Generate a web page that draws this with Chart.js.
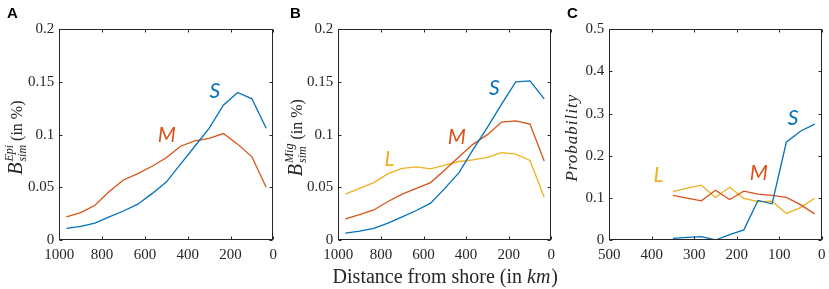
<!DOCTYPE html>
<html><head><meta charset="utf-8">
<script src="https://cdn.jsdelivr.net/npm/chart.js@4/dist/chart.umd.min.js"></script>
<style>
html,body{margin:0;padding:0;background:#fff;}
#wrap{position:relative;width:829px;height:289px;overflow:hidden;background:#fff;}
canvas{position:absolute;top:0;}
</style></head><body>
<div id="wrap">
<canvas id="cA" style="left:0px;width:280px;height:289px" width="280" height="289"></canvas>
<canvas id="cB" style="left:280px;width:300px;height:289px" width="300" height="289"></canvas>
<canvas id="cC" style="left:555px;width:274px;height:289px" width="274" height="289"></canvas>
</div>
<script>
// ---- data ----
const distAB = [966.7, 900, 833.3, 766.7, 700, 633.3, 566.7, 500, 433.3, 366.7, 300, 233.3, 166.7, 100, 33.3];
const epiS = [0.011, 0.013, 0.016, 0.022, 0.0275, 0.034, 0.044, 0.055, 0.072, 0.089, 0.106, 0.128, 0.140, 0.134, 0.106];
const epiM = [0.022, 0.026, 0.033, 0.046, 0.057, 0.063, 0.070, 0.078, 0.089, 0.094, 0.0965, 0.101, 0.091, 0.079, 0.050];
const migS = [0.0065, 0.0085, 0.011, 0.016, 0.022, 0.028, 0.035, 0.049, 0.064, 0.086, 0.107, 0.129, 0.150, 0.151, 0.134];
const migM = [0.020, 0.024, 0.0285, 0.0365, 0.0435, 0.049, 0.0545, 0.0665, 0.079, 0.091, 0.100, 0.112, 0.113, 0.110, 0.075];
const migL = [0.0435, 0.049, 0.0545, 0.063, 0.068, 0.0695, 0.0675, 0.071, 0.0745, 0.076, 0.0785, 0.083, 0.0815, 0.0755, 0.0405];
const distC = [350, 316.7, 283.3, 250, 216.7, 183.3, 150, 116.7, 83.3, 50, 16.7];
const probS = [0.004, 0.006, 0.008, 0.0, 0.013, 0.024, 0.094, 0.086, 0.232, 0.258, 0.275];
const probM = [0.106, 0.0995, 0.093, 0.118, 0.096, 0.116, 0.109, 0.106, 0.101, 0.084, 0.062];
const probL = [0.115, 0.123, 0.130, 0.101, 0.125, 0.099, 0.091, 0.092, 0.063, 0.077, 0.099];
const xTicksAB = [1000, 800, 600, 400, 200, 0];
const yTicksAB = [0, 0.05, 0.1, 0.15, 0.2];
const xTicksC = [500, 400, 300, 200, 100, 0];
const yTicksC = [0, 0.1, 0.2, 0.3, 0.4, 0.5];
const panelLetters = ['A', 'B', 'C'];
// series label annotations [text, distance, value]
const labelsA = [['S', 273, 0.141], ['M', 498, 0.0997]];
const labelsB = [['S', 267, 0.144], ['M', 444, 0.098], ['L', 760, 0.0769]];
const labelsC = [['S', 67.6, 0.290], ['M', 148, 0.159], ['L', 384, 0.154]];

const COLORS = {S: '#0072BD', M: '#D95319', L: '#EDB120'};
const AX = '#262626';
const TICKFONT = {family: '"Liberation Serif", "Times New Roman", serif', size: 15};

function pts(xs, ys) { return xs.map((x, i) => ({x: x, y: ys[i]})); }
function ds(name, xs, ys) {
  return {label: name, data: pts(xs, ys), borderColor: COLORS[name], backgroundColor: COLORS[name],
    borderWidth: 1.3, pointRadius: 0, tension: 0, fill: false};
}
function fmt(v) { return String(+Number(v).toFixed(3)); }

function makeChart(id, cfg) {
  const ctx = document.getElementById(id);
  const plugin = {
    id: 'deco' + id,
    afterDraw(chart) {
      const c = chart.ctx, a = chart.chartArea, xs = chart.scales.x, ys = chart.scales.y;
      c.save();
      c.strokeStyle = AX; c.lineWidth = 1;
      const L = Math.round(a.left) + 0.5, R = Math.round(a.right) - 0.5, T = Math.round(a.top) + 0.5, B = Math.round(a.bottom) - 0.5;
      c.strokeRect(L, T, R - L, B - T);
      c.beginPath();
      const tl = 3;
      cfg.xTicks.forEach(v => { const p = Math.round(xs.getPixelForValue(v)) + 0.5; c.moveTo(p, B); c.lineTo(p, B - tl); c.moveTo(p, T); c.lineTo(p, T + tl); });
      cfg.yTicks.forEach(v => { const p = Math.round(ys.getPixelForValue(v)) + 0.5; c.moveTo(L, p); c.lineTo(L + tl, p); c.moveTo(R, p); c.lineTo(R - tl, p); });
      c.stroke();
      // panel letter
      c.fillStyle = '#000'; c.font = 'bold 15px "Liberation Sans", Arial, sans-serif';
      c.textAlign = 'left'; c.textBaseline = 'alphabetic';
      c.fillText(cfg.letter, cfg.letterX, 18);
      // series labels
      c.font = 'italic 21px Lato, "Open Sans", sans-serif';
      c.textAlign = 'center'; c.textBaseline = 'middle';
      cfg.labels.forEach(l => { c.fillStyle = COLORS[l[0]]; c.fillText(l[0], xs.getPixelForValue(l[1]), ys.getPixelForValue(l[2])); });
      // y title
      c.fillStyle = AX;
      c.translate(cfg.yTitleX, (a.top + a.bottom) / 2 + 3);
      c.rotate(-Math.PI / 2);
      c.textBaseline = 'alphabetic'; c.textAlign = 'left';
      if (cfg.yTitle === 'prob') {
        c.font = 'italic 17px "Liberation Serif", serif';
        c.letterSpacing = '1px';
        const w = c.measureText('Probability').width;
        c.fillText('Probability', -w / 2, 0);
      } else {
        const fB = 'italic 20px "Liberation Serif", serif', fS = 'italic 12px "Liberation Serif", serif', fR = '16px "Liberation Serif", serif';
        c.font = fB; const wB = c.measureText('B').width;
        c.font = fS; const wSub = c.measureText('sim').width, wSup = c.measureText(cfg.yTitle).width;
        c.font = fR; const wR = c.measureText('(in %)').width;
        const ws = Math.max(wSub, wSup);
        const total = wB + 1 + ws + 4 + wR;
        let x0 = -total / 2;
        c.font = fB; c.fillText('B', x0, 0); x0 += wB + 1;
        c.font = fS; c.fillText(cfg.yTitle, x0, -9); c.fillText('sim', x0, 4); x0 += ws + 4;
        c.font = fR; c.fillText('(in %)', x0, 0);
      }
      c.restore();
      if (cfg.xTitle) {
        c.save();
        c.fillStyle = AX; c.textBaseline = 'alphabetic'; c.textAlign = 'left';
        const f1 = '20px "Liberation Serif", serif', f2 = 'italic 20px "Liberation Serif", serif';
        const p1 = 'Distance from shore (in ', p2 = 'km', p3 = ')';
        c.font = f1; const w1 = c.measureText(p1).width, w3 = c.measureText(p3).width;
        c.font = f2; const w2 = c.measureText(p2).width;
        let x0 = (a.left + a.right) / 2 - (w1 + w2 + w3) / 2;
        const y0 = 283;
        c.font = f1; c.fillText(p1, x0, y0); x0 += w1;
        c.font = f2; c.fillText(p2, x0, y0); x0 += w2 + 1;
        c.font = f1; c.fillText(p3, x0, y0);
        c.restore();
      }
    }
  };
  return new Chart(ctx, {
    type: 'line',
    data: {datasets: cfg.datasets},
    options: {
      responsive: false, animation: false, devicePixelRatio: 1,
      layout: {padding: {left: 0, right: cfg.padR, top: 29.3, bottom: 0}},
      plugins: {legend: {display: false}, tooltip: {enabled: false}},
      scales: {
        x: {type: 'linear', reverse: true, min: cfg.xMin, max: cfg.xMax,
          afterBuildTicks(s) { s.ticks = cfg.xTicks.map(v => ({value: v})); },
          afterFit(s) { s.height = 49; s.paddingLeft = 0; s.paddingRight = 0; },
          grid: {display: false, drawTicks: false}, border: {display: false},
          ticks: {color: AX, font: TICKFONT, padding: 6, maxRotation: 0, autoSkip: false, callback: v => fmt(v)}},
        y: {type: 'linear', min: cfg.yMin, max: cfg.yMax,
          afterBuildTicks(s) { s.ticks = cfg.yTicks.map(v => ({value: v})); },
          afterFit(s) { s.width = cfg.yW; s.paddingTop = 0; s.paddingBottom = 0; },
          grid: {display: false, drawTicks: false}, border: {display: false},
          ticks: {color: AX, font: TICKFONT, padding: 5, autoSkip: false, callback: v => fmt(v)}}
      }
    },
    plugins: [plugin]
  });
}

makeChart('cA', {
  datasets: [ds('S', distAB, epiS), ds('M', distAB, epiM)],
  xMin: 0, xMax: 1000, yMin: 0, yMax: 0.2, xTicks: xTicksAB, yTicks: yTicksAB,
  yW: 59.3, padR: 6.7, letter: panelLetters[0], letterX: 7, labels: labelsA, yTitle: 'Epi', yTitleX: 22
});
makeChart('cB', {
  datasets: [ds('S', distAB, migS), ds('M', distAB, migM), ds('L', distAB, migL)],
  xMin: 0, xMax: 1000, yMin: 0, yMax: 0.2, xTicks: xTicksAB, yTicks: yTicksAB,
  yW: 58.3, padR: 28.7, letter: panelLetters[1], letterX: 10, labels: labelsB, yTitle: 'Mig', yTitleX: 22, xTitle: true
});
makeChart('cC', {
  datasets: [ds('S', distC, probS), ds('M', distC, probM), ds('L', distC, probL)],
  xMin: 0, xMax: 500, yMin: 0, yMax: 0.5, xTicks: xTicksC, yTicks: yTicksC,
  yW: 54.3, padR: 7.3, letter: panelLetters[2], letterX: 12, labels: labelsC, yTitle: 'prob', yTitleX: 22
});
</script>
</body></html>
